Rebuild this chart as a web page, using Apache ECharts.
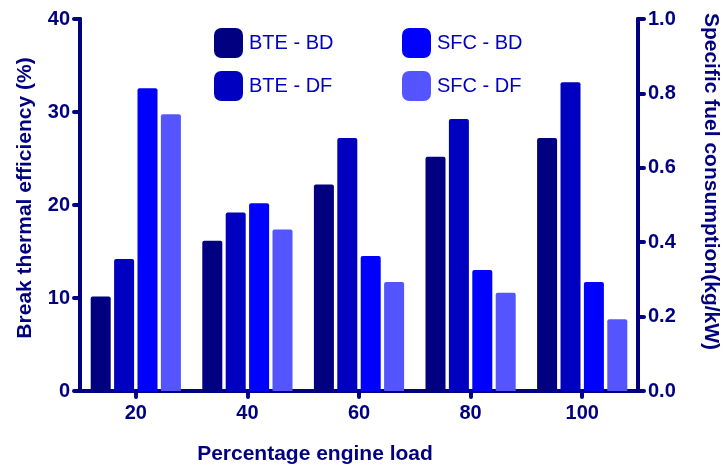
<!DOCTYPE html>
<html>
<head>
<meta charset="utf-8">
<script src="https://cdn.jsdelivr.net/npm/echarts@6/dist/echarts.min.js"></script>
<style>html,body{margin:0;padding:0;background:#fff}#c{width:724px;height:468px}</style>
</head>
<body>
<div id="c"></div>
<script>
const categories = ['20', '40', '60', '80', '100'];
const bteBD = [10.15, 16.15, 22.2, 25.2, 27.2];
const bteDF = [14.2, 19.2, 27.2, 29.25, 33.2];
const sfcBD = [0.814, 0.505, 0.363, 0.325, 0.293];
const sfcDF = [0.744, 0.434, 0.293, 0.264, 0.193];
const leftTicks = {min: 0, max: 40, interval: 10};
const rightTicks = {min: 0, max: 1, interval: 0.2};

const navy = '#000080';
const font = 'Liberation Sans, Arial, sans-serif';
const chart = echarts.init(document.getElementById('c'), null, {renderer: 'canvas'});

const axisLine = {show: true, lineStyle: {color: navy, width: 4, cap: 'round'}};
const axisTick = {show: true, length: 6, lineStyle: {color: navy, width: 4, cap: 'round'}};
const tickLabel = {color: navy, fontSize: 20, fontWeight: 'bold', fontFamily: font};
const nameStyle = {color: navy, fontSize: 21, fontWeight: 'bold', fontFamily: font};

const legendCommon = {
  orient: 'vertical', top: 23, itemWidth: 29, itemHeight: 30, itemGap: 13,
  icon: 'roundRect', textStyle: {color: '#0000C0', fontSize: 20, fontFamily: font, padding: [0,0,0,1]}
};

chart.setOption({
  animation: false,
  grid: {left: 80, right: 86, top: 19, bottom: 77, containLabel: false, outerBoundsMode: 'none'},
  legend: [
    Object.assign({left: 209, data: ['BTE - BD', 'BTE - DF']}, legendCommon),
    Object.assign({left: 397, data: ['SFC - BD', 'SFC - DF']}, legendCommon)
  ],
  xAxis: {
    type: 'category', data: categories,
    axisLine: axisLine, axisTick: Object.assign({alignWithLabel: true}, axisTick),
    axisLabel: Object.assign({margin: 12}, tickLabel),
    name: 'Percentage engine load', nameLocation: 'middle', nameGap: 53,
    nameTextStyle: Object.assign({padding: [0, 88, 0, 0]}, nameStyle)
  },
  yAxis: [
    {
      type: 'value', min: leftTicks.min, max: leftTicks.max, interval: leftTicks.interval,
      axisLine: axisLine, axisTick: axisTick, splitLine: {show: false},
      axisLabel: Object.assign({margin: 10}, tickLabel),
      name: 'Break thermal efficiency (%)', nameLocation: 'middle', nameGap: 44, nameRotate: 90,
      nameTextStyle: Object.assign({padding: [0, 0, 0, 14]}, nameStyle)
    },
    {
      type: 'value', min: rightTicks.min, max: rightTicks.max, interval: rightTicks.interval,
      position: 'right',
      axisLine: axisLine, axisTick: axisTick, splitLine: {show: false},
      axisLabel: Object.assign({margin: 10, formatter: v => v.toFixed(1)}, tickLabel),
      name: 'Specific fuel consumption(kg/kW)', nameLocation: 'middle', nameGap: 62, nameRotate: -90,
      nameTextStyle: Object.assign({padding: [0, 47, 0, 0]}, nameStyle)
    }
  ],
  series: [
    {name: 'BTE - BD', type: 'bar', yAxisIndex: 0, data: bteBD, itemStyle: {color: '#000080', borderRadius: [2,2,0,0]}},
    {name: 'BTE - DF', type: 'bar', yAxisIndex: 0, data: bteDF, itemStyle: {color: '#0000C0', borderRadius: [2,2,0,0]}},
    {name: 'SFC - BD', type: 'bar', yAxisIndex: 1, data: sfcBD, itemStyle: {color: '#0000FF', borderRadius: [2,2,0,0]}},
    {name: 'SFC - DF', type: 'bar', yAxisIndex: 1, data: sfcDF, itemStyle: {color: '#5555FF', borderRadius: [2,2,0,0]}}
  ].map(s => Object.assign(s, {barWidth: 20, barGap: '17%'}))
});
</script>
</body>
</html>
